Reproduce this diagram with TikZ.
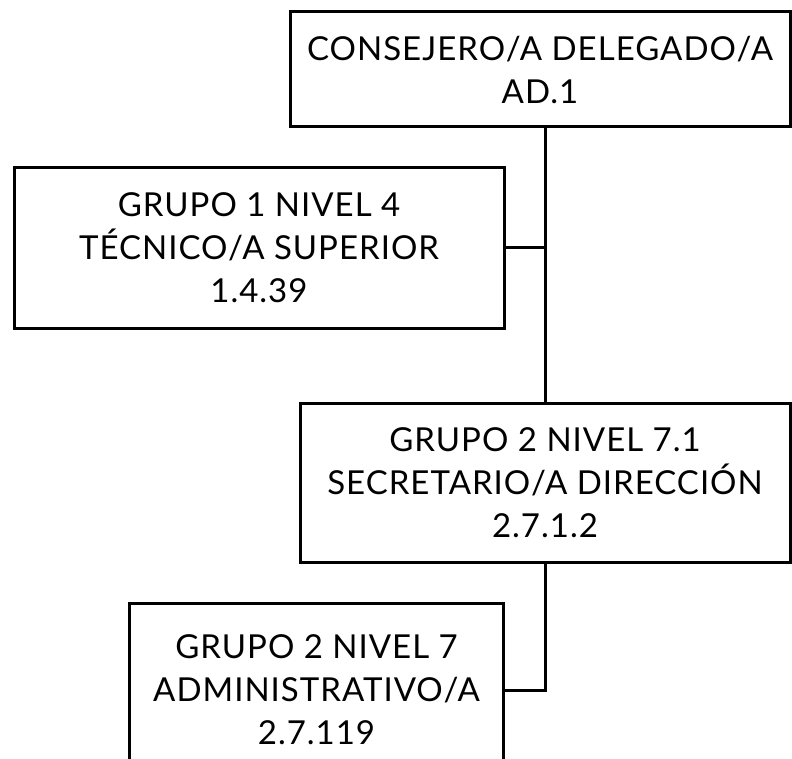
\documentclass[tikz,border=0pt]{standalone}
\usepackage{fontspec}
\setmainfont{Lato}[LetterSpace=3]
\tikzset{
  puesto/.style={draw, line width=3pt, fill=white, align=center, inner sep=0pt,
    font=\fontsize{33}{43}\selectfont},
  enlace/.style={line width=3pt}
}
\begin{document}
\begin{tikzpicture}[x=1pt,y=1pt]
            \useasboundingbox (0,0) rectangle (792,-759);
            \clip (0,0) rectangle (792,-759);
            \node[puesto, minimum width=500pt, minimum height=115pt] (consejero) at (540,-69.5) {CONSEJERO/A DELEGADO/A\\AD.1};
            \node[puesto, minimum width=490pt, minimum height=160pt] (tecnico) at (259,-248) {GRUPO 1 NIVEL 4\\TÉCNICO/A SUPERIOR\\1.4.39};
            \node[puesto, minimum width=490pt, minimum height=159pt] (secretario) at (545,-482.5) {GRUPO 2 NIVEL 7.1\\SECRETARIO/A DIRECCIÓN\\2.7.1.2};
            \node[puesto, minimum width=374pt, minimum height=174pt] (administrativo) at (316.5,-690) {GRUPO 2 NIVEL 7\\ADMINISTRATIVO/A\\2.7.119};
            \draw[enlace] (consejero.south -| secretario.north) -- (secretario.north);
            \draw[enlace] (tecnico.east) -- (tecnico.east -| secretario.north);
            \draw[enlace] (secretario.south) -- (secretario.south |- administrativo.east) -- (administrativo.east);
\end{tikzpicture}
\end{document}
